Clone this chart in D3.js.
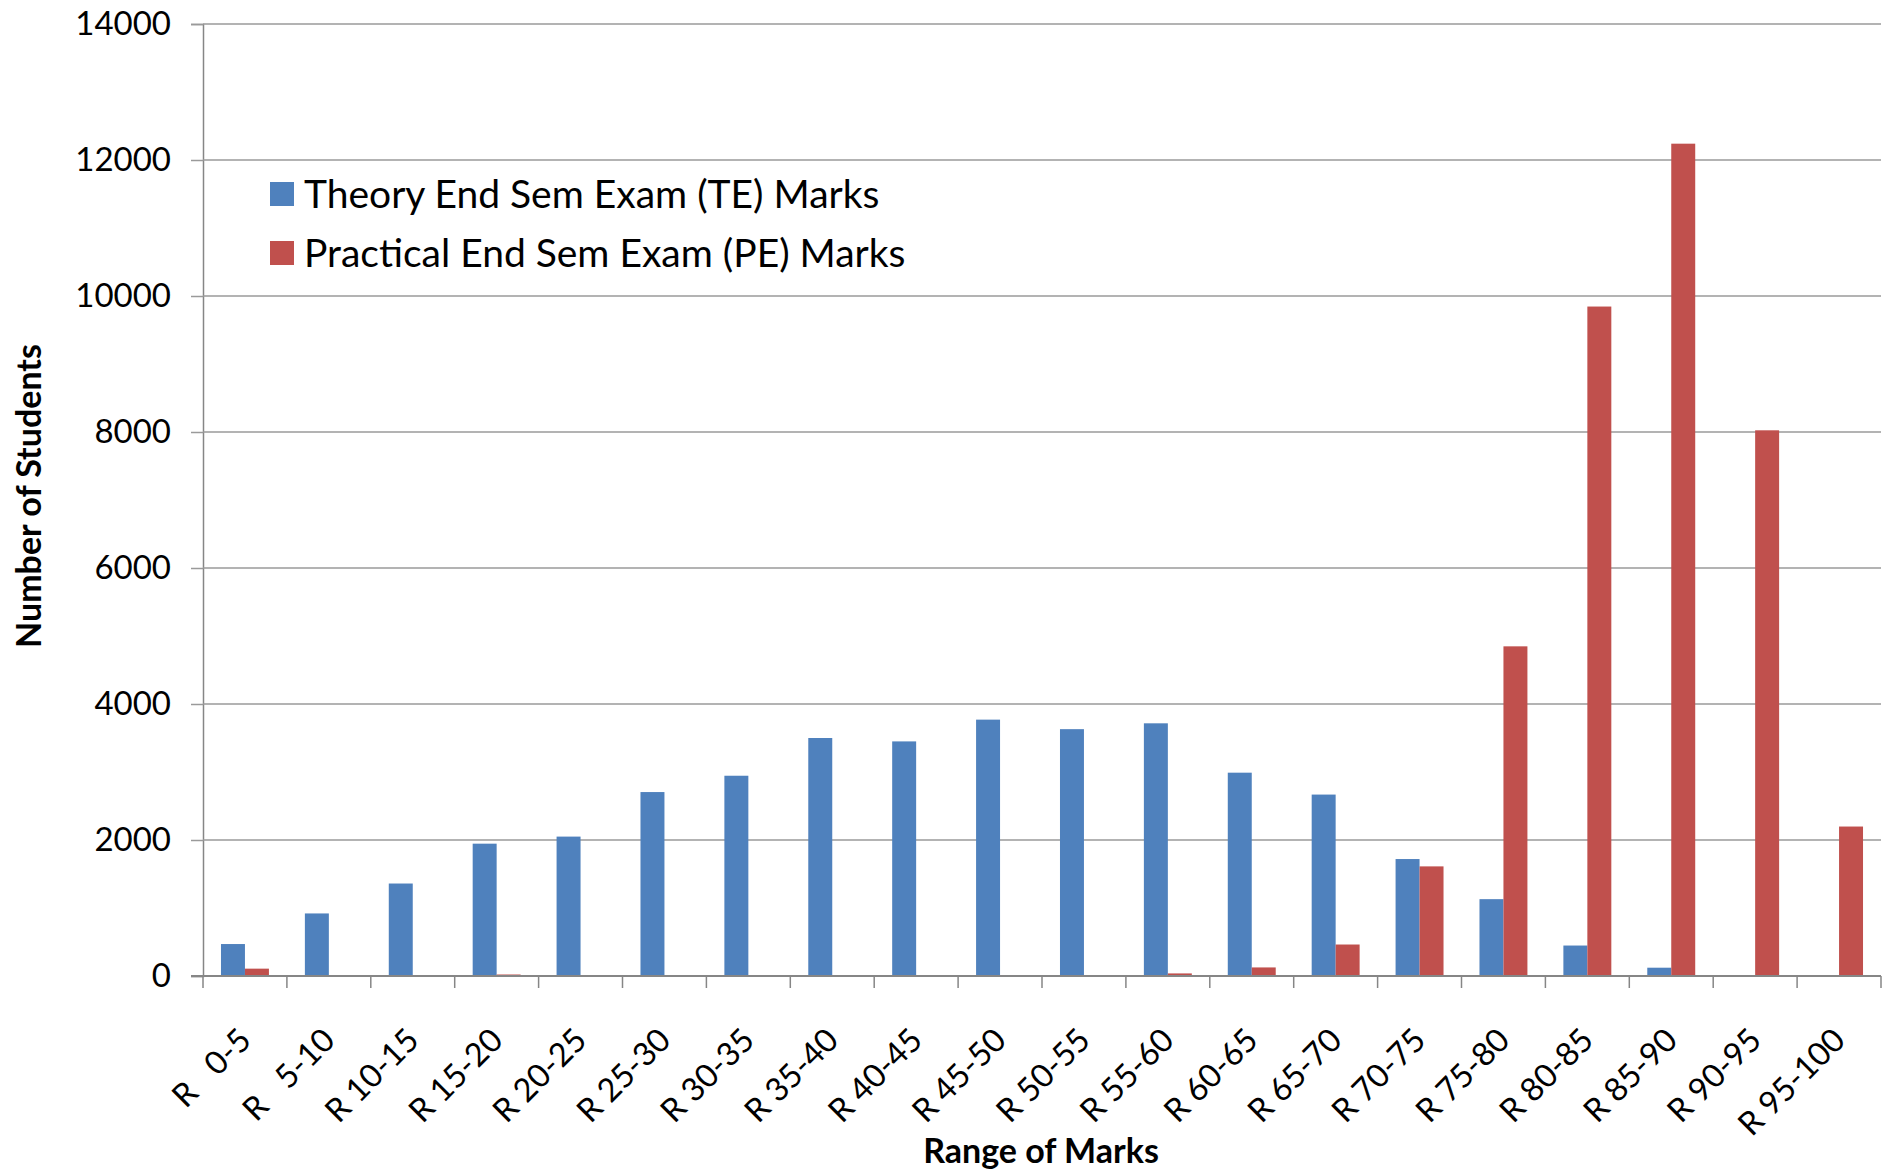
<!DOCTYPE html>
<html>
<head>
<meta charset="utf-8">
<script src="https://cdn.jsdelivr.net/npm/d3@7/dist/d3.min.js"></script>
<style>
  body { margin: 0; background: #fff; }
  text { font-family: Lato, "Open Sans", sans-serif; fill: #000; }
</style>
</head>
<body>
<div id="chart"></div>
<script>
// categories and series
var categories = ["R  0-5", "R  5-10", "R 10-15", "R 15-20", "R 20-25", "R 25-30", "R 30-35",
    "R 35-40", "R 40-45", "R 45-50", "R 50-55", "R 55-60", "R 60-65", "R 65-70", "R 70-75",
    "R 75-80", "R 80-85", "R 85-90", "R 90-95", "R 95-100"];
var theoryMarks = [470, 920, 1360, 1946, 2050, 2705, 2945, 3500, 3450, 3770, 3630, 3716,
    2990, 2668, 1720, 1130, 448, 122, 0, 0];
var practicalMarks = [108, 0, 0, 22, 0, 0, 0, 0, 6, 0, 0, 38, 126, 463, 1612, 4848,
    9845, 12240, 8025, 2198];
var seriesNames = ["Theory End Sem Exam (TE) Marks", "Practical End Sem Exam (PE) Marks"];
var seriesColors = ["#4f81bd", "#c0504d"];
var yTicks = [0, 2000, 4000, 6000, 8000, 10000, 12000, 14000];

var width = 1888, height = 1176;
var margin = { top: 24, right: 7, bottom: 200, left: 203 };
var plotW = width - margin.left - margin.right,
    plotH = height - margin.top - margin.bottom;

var svg = d3.select("#chart").append("svg")
    .attr("width", width)
    .attr("height", height);

var g = svg.append("g")
    .attr("transform", "translate(" + margin.left + "," + margin.top + ")");

var x = d3.scaleBand()
    .domain(categories)
    .range([0, plotW]);

// excel style: gap width 150%, two bars per group
var barW = x.bandwidth() / 3.5;
var x1 = d3.scaleBand()
    .domain([0, 1])
    .range([(x.bandwidth() - 2 * barW) / 2, (x.bandwidth() + 2 * barW) / 2]);

var y = d3.scaleLinear()
    .domain([0, 14000])
    .range([plotH, 0]);

// y axis
var yAxis = g.append("g")
    .call(d3.axisLeft(y).tickValues(yTicks).tickSize(12).tickPadding(20).tickFormat(d3.format("d")));
yAxis.select(".domain").attr("stroke", "#868686").attr("stroke-width", 1.5);
yAxis.selectAll(".tick line").attr("stroke", "#9a9a9a").attr("stroke-width", 1.5);
yAxis.selectAll(".tick text")
    .style("font-size", "33px")
    .style("font-family", "Lato, sans-serif");

// gridlines
g.append("g")
    .selectAll("line")
    .data(yTicks.filter(d => d > 0))
    .enter().append("line")
    .attr("x1", 0)
    .attr("x2", plotW)
    .attr("y1", d => y(d))
    .attr("y2", d => y(d))
    .attr("stroke", "#9a9a9a")
    .attr("stroke-width", 1.5);

// bars
var groups = g.append("g")
    .selectAll("g")
    .data(categories)
    .enter().append("g")
    .attr("transform", d => "translate(" + x(d) + ",0)");

groups.selectAll("rect")
    .data((d, i) => [theoryMarks[i], practicalMarks[i]])
    .enter().append("rect")
    .attr("x", (d, j) => x1(j))
    .attr("width", barW)
    .attr("y", d => y(d))
    .attr("height", d => plotH - y(d))
    .attr("fill", (d, j) => seriesColors[j]);

// x axis, ticks sit on the category boundaries
var xAxisG = g.append("g")
    .attr("transform", "translate(0," + plotH + ")");
xAxisG.append("line")
    .attr("x1", -12).attr("x2", plotW)
    .attr("stroke", "#868686").attr("stroke-width", 2);
xAxisG.selectAll(".bound")
    .data(d3.range(categories.length + 1))
    .enter().append("line")
    .attr("class", "bound")
    .attr("x1", i => i * x.step())
    .attr("x2", i => i * x.step())
    .attr("y1", 0).attr("y2", 12)
    .attr("stroke", "#868686").attr("stroke-width", 1.5);

// svg collapses double spaces and lato's space is narrow, so widen the gap
xAxisG.selectAll(".lbl")
    .data(categories)
    .enter().append("text")
    .attr("class", "lbl")
    .attr("transform", d => "translate(" + (x(d) + x.bandwidth() / 2 - 8) + ",50) rotate(-45)")
    .attr("text-anchor", "end")
    .attr("dy", "0.7em")
    .style("font-size", "32.5px")
    .text(d => d.replace(/  /g, "\u00a0\u00a0\u00a0"));

// axis titles
svg.append("text")
    .attr("x", 1041)
    .attr("y", 1163)
    .attr("text-anchor", "middle")
    .style("font-size", "34px")
    .style("font-weight", "bold")
    .text("Range of Marks");

svg.append("text")
    .attr("transform", "translate(41,496) rotate(-90)")
    .attr("text-anchor", "middle")
    .style("font-size", "34px")
    .style("font-weight", "bold")
    .text("Number of Students");

// legend
var legend = svg.append("g")
    .attr("transform", "translate(270,182)");
var keys = legend.selectAll("g")
    .data(seriesNames)
    .enter().append("g")
    .attr("transform", (d, i) => "translate(0," + (i * 59) + ")");
keys.append("rect")
    .attr("width", 24)
    .attr("height", 24)
    .attr("fill", (d, i) => seriesColors[i]);
keys.append("text")
    .attr("x", 34)
    .attr("y", 12)
    .attr("dy", "0.36em")
    .style("font-size", "39px")
    .text(d => d);
</script>
</body>
</html>
